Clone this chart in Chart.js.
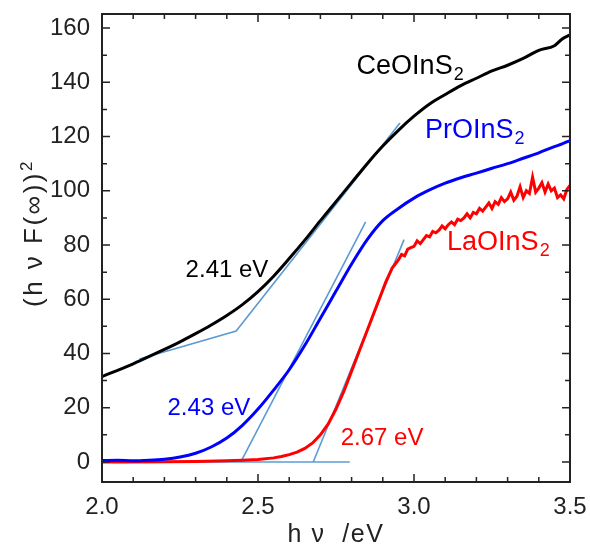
<!DOCTYPE html>
<html>
<head>
<meta charset="utf-8">
<script src="https://cdn.jsdelivr.net/npm/chart.js@4.4.1/dist/chart.umd.min.js"></script>
<style>
body { margin: 0; background: #fff; }
</style>
</head>
<body>
<canvas id="chart" width="590" height="547"></canvas>
<script>
// photon energy (eV) for the smooth curves
let energy = [2.00, 2.05, 2.10, 2.15, 2.20, 2.25, 2.30, 2.35, 2.40, 2.45, 2.50, 2.55, 2.60, 2.65, 2.70, 2.75,
    2.80, 2.85, 2.90, 2.95, 3.00, 3.05, 3.10, 3.15, 3.20, 3.25, 3.30, 3.35, 3.40, 3.45, 3.475, 3.50];
let ceValues = [31.5, 33.8, 36.2, 38.8, 41.5, 44.3, 47.3, 50.5, 54, 58, 62.8, 68.5, 75, 81.8, 89, 96,
    103, 110, 116.5, 122.3, 127.5, 132, 135.5, 138.8, 141.5, 144.2, 146.3, 148.8, 151.8, 153.5, 156, 157.5];
let prValues = [0.5, 0.6, 0.4, 0.6, 1.0, 1.8, 3.2, 5.5, 8.8, 13.5, 19.5, 26.5, 34, 43, 53, 63,
    73, 82, 89, 93.5, 97.3, 100.3, 102.8, 104.8, 106.5, 108.3, 110, 112, 114, 116.3, 117.3, 118.5];

// LaOInS2 is read more finely: steep edge and noisy plateau
let laEnergy = [2.00, 2.10, 2.20, 2.30, 2.40, 2.45, 2.50, 2.55, 2.575, 2.60, 2.625, 2.65, 2.675, 2.70,
    2.725, 2.75, 2.775, 2.80, 2.825, 2.85, 2.875, 2.90,
    2.91, 2.92, 2.93, 2.94, 2.95, 2.96, 2.97, 2.98, 2.99, 3.00,
    3.01, 3.02, 3.03, 3.04, 3.05, 3.06, 3.07, 3.08, 3.09, 3.10,
    3.11, 3.12, 3.13, 3.14, 3.15, 3.16, 3.17, 3.18, 3.19, 3.20,
    3.21, 3.22, 3.23, 3.24, 3.25, 3.26, 3.27, 3.28, 3.29, 3.30,
    3.31, 3.32, 3.33, 3.34, 3.35, 3.36, 3.37, 3.38, 3.39, 3.40,
    3.41, 3.42, 3.43, 3.44, 3.45, 3.46, 3.47, 3.48, 3.49, 3.50];
let laValues = [0, 0, 0.1, 0.2, 0.4, 0.6, 0.9, 1.5, 2, 2.7, 3.6, 5, 7, 10,
    14, 19.5, 26, 33.5, 41, 48.5, 56, 63.5,
    66.5, 69, 71.5, 73, 74.5, 76.5, 76, 78.5, 79, 79.5,
    81.5, 80.5, 82, 83.5, 83, 85, 84.5, 85.5, 87, 86,
    87.5, 88.5, 87.5, 89.5, 89, 90, 91.5, 90, 92, 91.5,
    93.5, 92.5, 94, 95.5, 93.5, 96, 95, 97.5, 96, 97,
    99.5, 96.5, 98, 101.5, 97.5, 100, 99, 105, 99.5, 101,
    103, 99.5, 102.5, 100, 101, 97.5, 98.5, 97, 100.5, 102];

// tangent construction lines
let ceTangentE = [2.12, 2.43, 2.955];
let ceTangentY = [38.0, 48.3, 125];
let prTangentE = [2.445, 2.845];
let prTangentY = [0, 88.5];
let laTangentE = [2.677, 2.968];
let laTangentY = [0, 82];
let baseE = [2.0, 2.794];
let baseY = [0, 0];

let xTicks = [2.0, 2.5, 3.0, 3.5];
let yTicks = [0, 20, 40, 60, 80, 100, 120, 140, 160];

// text labels: [text, subscript, energy, value, colour, size]
let labels = [
    ["CeOInS", "2", 2.816, 143.0, "#000000", 27],
    ["PrOInS", "2", 3.035, 119.4, "#0000ff", 27],
    ["LaOInS", "2", 3.106, 78.2, "#ff0000", 27],
    ["2.41 eV", "", 2.268, 68.2, "#000000", 24],
    ["2.43 eV", "", 2.210, 17.3, "#0000ff", 24],
    ["2.67 eV", "", 2.765, 6.3, "#ff0000", 24]
];

const FONT = '"Liberation Sans", Arial, sans-serif';
const TANGENT = "#5b9bd5";

function pts(xs, ys) {
    return xs.map((x, i) => ({x, y: ys[i]}));
}

function curve(label, xs, ys, color, smooth) {
    return {
        label,
        data: pts(xs, ys),
        borderColor: color,
        borderWidth: 3,
        pointRadius: 0,
        cubicInterpolationMode: smooth ? "monotone" : "default",
        tension: 0,
        fill: false
    };
}

function tangent(xs, ys) {
    return {
        data: pts(xs, ys),
        borderColor: TANGENT,
        borderWidth: 1.6,
        pointRadius: 0,
        tension: 0,
        fill: false
    };
}

function fixBox(s, w, h) {
    if (w) s.width = w;
    if (h) s.height = h;
    s.paddingTop = 0;
    s.paddingBottom = 0;
    s.paddingLeft = 0;
    s.paddingRight = 0;
}

const framePlugin = {
    id: "frame",
    afterDraw(chart) {
        let {ctx, chartArea: a, scales: {x, y}} = chart;
        ctx.save();
        ctx.strokeStyle = "#222";
        ctx.lineWidth = 1.5;
        ctx.beginPath();
        for (let i = 0; i <= 15; i++) {
            let px = x.getPixelForValue(2 + i * 0.1);
            let len = i % 5 === 0 ? 8 : 5;
            ctx.moveTo(px, a.bottom); ctx.lineTo(px, a.bottom - len);
            ctx.moveTo(px, a.top); ctx.lineTo(px, a.top + len);
        }
        for (let v = 0; v <= 160; v += 10) {
            let py = y.getPixelForValue(v);
            let len = v % 20 === 0 ? 8 : 5;
            ctx.moveTo(a.left, py); ctx.lineTo(a.left + len, py);
            ctx.moveTo(a.right, py); ctx.lineTo(a.right - len, py);
        }
        ctx.stroke();
        ctx.lineWidth = 2;
        ctx.strokeRect(a.left, a.top, a.right - a.left, a.bottom - a.top);

        // series labels
        ctx.textBaseline = "alphabetic";
        ctx.textAlign = "left";
        labels.forEach(([text, sub, ex, ey, color, size]) => {
            let px = x.getPixelForValue(ex);
            let py = y.getPixelForValue(ey);
            ctx.fillStyle = color;
            ctx.font = `${size}px ${FONT}`;
            ctx.fillText(text, px, py);
            if (sub) {
                let w = ctx.measureText(text).width;
                ctx.font = `${Math.round(size * 0.65)}px ${FONT}`;
                ctx.fillText(sub, px + w + 1, py + 6);
            }
        });

        // axis titles
        ctx.fillStyle = "#222";
        ctx.font = `25px ${FONT}`;
        ctx.letterSpacing = "1.5px";
        ctx.textAlign = "center";
        ctx.fillText("h ν  /eV", (a.left + a.right) / 2, a.bottom + 60);

        ctx.font = `26px ${FONT}`;
        ctx.letterSpacing = "2.5px";
        ctx.translate(a.left - 60, 307);
        ctx.rotate(-Math.PI / 2);
        ctx.textAlign = "left";
        let main = "(h ν F(∞))";
        ctx.fillText(main, 0, 0);
        let w = ctx.measureText(main).width;
        ctx.font = `17px ${FONT}`;
        ctx.letterSpacing = "0px";
        ctx.fillText("2", w, -10);
        ctx.restore();
    }
};

let chart = new Chart(document.getElementById("chart").getContext("2d"), {
    type: "line",
    data: {
        datasets: [
            curve("CeOInS2", energy, ceValues, "#000000", true),
            curve("PrOInS2", energy, prValues, "#0000ff", true),
            curve("LaOInS2", laEnergy, laValues, "#ff0000", false),
            tangent(ceTangentE, ceTangentY),
            tangent(prTangentE, prTangentY),
            tangent(laTangentE, laTangentY),
            tangent(baseE, baseY)
        ]
    },
    options: {
        responsive: false,
        animation: false,
        layout: {padding: {top: 14, right: 20, left: 0, bottom: 0}},
        plugins: {
            legend: {display: false},
            tooltip: {enabled: false}
        },
        scales: {
            x: {
                type: "linear",
                min: 2.0,
                max: 3.5,
                afterFit: s => fixBox(s, 0, 65),
                afterBuildTicks: s => { s.ticks = xTicks.map(v => ({value: v})); },
                grid: {display: false, drawTicks: false},
                border: {display: false},
                ticks: {
                    padding: 11,
                    maxRotation: 0,
                    color: "#222",
                    font: {family: FONT, size: 24},
                    callback: v => v.toFixed(1)
                }
            },
            y: {
                type: "linear",
                min: -7.4,
                max: 165.2,
                afterFit: s => fixBox(s, 102, 0),
                afterBuildTicks: s => { s.ticks = yTicks.map(v => ({value: v})); },
                grid: {display: false, drawTicks: false},
                border: {display: false},
                ticks: {
                    padding: 12,
                    color: "#222",
                    font: {family: FONT, size: 24}
                }
            }
        }
    },
    plugins: [framePlugin]
});
</script>
</body>
</html>
